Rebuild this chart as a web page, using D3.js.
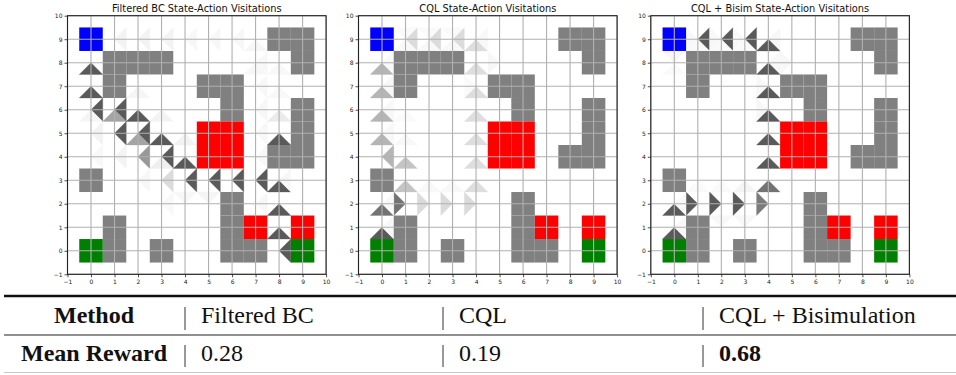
<!DOCTYPE html>
<html>
<head>
<meta charset="utf-8">
<script src="https://cdn.jsdelivr.net/npm/d3@7"></script>
<style>
  html, body { margin: 0; padding: 0; background: #fff; }
  svg { display: block; }
</style>
</head>
<body>
<div id="chart"></div>
<script>
// gridworld layout (cell centres)
const gridTicks = d3.range(-1, 11);
const startCells = [[0, 9]];
const wallCells = [
  [1, 8], [2, 8], [3, 8], [1, 7],
  [8, 9], [9, 9], [9, 8],
  [5, 7], [6, 7], [6, 6],
  [9, 6], [9, 5], [9, 4], [8, 4],
  [0, 3],
  [6, 2], [6, 1], [6, 0], [7, 0],
  [1, 1], [1, 0], [3, 0]
];
const lavaCells = [[5, 5], [6, 5], [5, 4], [6, 4], [7, 1], [9, 1]];
const goalCells = [[0, 0], [9, 0]];

const panelTitles = [
  'Filtered BC State-Action Visitations',
  'CQL State-Action Visitations',
  'CQL + Bisim State-Action Visitations'
];

// [x, y, action, visitation share]  (U/D/L/R)
const bcVisits = [
  [1, 9, 'R', 0.07], [2, 9, 'R', 0.07], [3, 9, 'R', 0.07], [4, 9, 'R', 0.05], [5, 9, 'R', 0.05], [6, 9, 'R', 0.05],
  [7, 9, 'D', 0.05], [7, 8, 'D', 0.05], [8, 8, 'D', 0.04], [7, 8, 'R', 0.04], [8, 7, 'D', 0.04],
  [7, 7, 'R', 0.04], [7, 6, 'R', 0.05], [8, 6, 'D', 0.12], [7, 5, 'R', 0.04], [7, 4, 'R', 0.04], [8, 5, 'D', 1],
  [0, 8, 'D', 1], [0, 7, 'D', 1], [0, 6, 'R', 1], [0, 6, 'D', 0.06], [0, 5, 'R', 0.08], [0, 4, 'R', 0.04],
  [1, 6, 'R', 1], [1, 6, 'D', 0.55], [2, 7, 'D', 0.06], [2, 6, 'D', 1], [3, 6, 'D', 0.07],
  [1, 5, 'R', 1], [2, 5, 'R', 1], [2, 5, 'D', 0.55], [3, 5, 'D', 1], [4, 5, 'D', 0.07],
  [1, 4, 'R', 0.07], [2, 4, 'R', 0.62], [3, 4, 'R', 1], [3, 4, 'D', 0.1], [4, 4, 'D', 1],
  [2, 3, 'R', 0.05], [3, 3, 'R', 0.22], [4, 3, 'R', 1], [5, 3, 'R', 1], [6, 3, 'R', 1], [7, 3, 'R', 1],
  [8, 3, 'D', 1], [8, 3, 'R', 0.05], [3, 2, 'R', 0.04], [4, 2, 'U', 0.05], [5, 2, 'U', 0.06], [7, 2, 'R', 0.05],
  [8, 2, 'D', 1], [8, 1, 'D', 1], [8, 0, 'R', 1]
];

const cqlVisits = [
  [1, 9, 'R', 0.22], [2, 9, 'R', 0.22], [3, 9, 'R', 0.22],
  [1, 9, 'D', 0.04], [2, 9, 'D', 0.04], [3, 9, 'D', 0.04],
  [1, 9, 'U', 0.03], [2, 9, 'U', 0.03], [3, 9, 'U', 0.03],
  [4, 9, 'D', 0.2], [4, 8, 'D', 0.2], [4, 7, 'D', 0.2], [4, 6, 'D', 0.2], [4, 5, 'D', 0.2], [4, 4, 'D', 0.2], [4, 3, 'D', 0.2],
  [5, 8, 'L', 0.05], [4, 9, 'R', 0.04], [4, 7, 'L', 0.03],
  [0, 8, 'D', 0.45], [0, 7, 'D', 0.45], [0, 6, 'D', 0.45], [0, 5, 'D', 0.45], [0, 4, 'R', 0.45],
  [0, 8, 'R', 0.04], [0, 7, 'R', 0.04], [0, 6, 'R', 0.04], [0, 5, 'R', 0.04], [1, 6, 'D', 0.03], [1, 5, 'D', 0.04],
  [1, 4, 'D', 0.36], [1, 3, 'D', 0.36], [2, 3, 'D', 0.04], [3, 3, 'D', 0.04],
  [1, 2, 'L', 0.85], [2, 2, 'L', 0.22], [3, 2, 'L', 0.22], [4, 2, 'L', 0.22],
  [0, 2, 'D', 0.85], [0, 1, 'D', 1], [0, 2, 'R', 0.04], [0, 1, 'R', 0.04]
];

const bisimVisits = [
  [1, 9, 'R', 1], [2, 9, 'R', 1], [3, 9, 'R', 1],
  [1, 9, 'L', 0.04], [2, 9, 'L', 0.04], [3, 9, 'L', 0.04], [1, 9, 'D', 0.03], [2, 9, 'D', 0.03], [3, 9, 'D', 0.03],
  [0, 8, 'U', 0.05], [0, 8, 'D', 0.03], [4, 9, 'R', 0.04], [5, 8, 'L', 0.05], [4, 8, 'R', 0.04], [4, 7, 'L', 0.04], [4, 6, 'L', 0.05],
  [4, 9, 'D', 1], [4, 8, 'D', 1], [4, 7, 'D', 1], [4, 6, 'D', 1], [4, 5, 'D', 1], [4, 4, 'D', 1], [4, 3, 'D', 0.85],
  [3, 3, 'D', 0.06], [2, 3, 'D', 0.03], [1, 3, 'D', 0.03], [2, 1, 'U', 0.04], [3, 1, 'U', 0.04],
  [4, 2, 'L', 0.8], [3, 2, 'L', 1], [2, 2, 'L', 1], [1, 2, 'L', 1],
  [0, 2, 'D', 1], [0, 1, 'D', 1], [0, 2, 'R', 0.04], [0, 1, 'R', 0.04]
];

const panelVisits = [bcVisits, cqlVisits, bisimVisits];

const methods = ['Filtered BC', 'CQL', 'CQL + Bisimulation'];
const meanRewards = ['0.28', '0.19', '0.68'];
const bestMethod = 'CQL + Bisimulation';

const width = 956;
const height = 375;
const panelLefts = [67.5, 358.5, 650.8];
const panelSize = 258.6;
const panelTop = 15.7;

const svg = d3.select('#chart').append('svg')
  .attr('width', width)
  .attr('height', height);

const shade = d3.scaleLinear().domain([0, 1]).range(['#ffffff', '#5a5a5a']);

// triangle corners for each action, relative to cell centre
const corners = {
  D: [[-0.5, -0.5], [0.5, -0.5], [0, 0]],
  U: [[-0.5, 0.5], [0.5, 0.5], [0, 0]],
  R: [[0.5, -0.5], [0.5, 0.5], [0, 0]],
  L: [[-0.5, -0.5], [-0.5, 0.5], [0, 0]]
};

panelTitles.forEach((title, i) => {
  const x = d3.scaleLinear().domain([-1, 10]).range([panelLefts[i], panelLefts[i] + panelSize]);
  const y = d3.scaleLinear().domain([-1, 10]).range([panelTop + panelSize, panelTop]);
  const g = svg.append('g');

  // visitation triangles
  g.selectAll('path.tri')
    .data(panelVisits[i])
    .enter()
    .append('path')
    .attr('class', 'tri')
    .attr('d', d => 'M' + corners[d[2]].map(c => `${x(d[0] + c[0])},${y(d[1] + c[1])}`).join('L') + 'Z')
    .attr('fill', d => shade(d[3]))
    .attr('stroke', d => shade(d[3]))
    .attr('stroke-width', 0.3);

  // coloured cells
  const cellSets = [
    [wallCells, '#808080'],
    [lavaCells, '#ff0000'],
    [goalCells, '#008000'],
    [startCells, '#0000ff']
  ];
  cellSets.forEach(([cells, color]) => {
    g.selectAll(null)
      .data(cells)
      .enter()
      .append('rect')
      .attr('x', d => x(d[0] - 0.5))
      .attr('y', d => y(d[1] + 0.5))
      .attr('width', d => x(d[0] + 0.5) - x(d[0] - 0.5))
      .attr('height', d => y(d[1] - 0.5) - y(d[1] + 0.5))
      .attr('fill', color);
  });

  // grid
  g.selectAll('line.gx')
    .data(gridTicks)
    .enter()
    .append('line')
    .attr('x1', d => x(d)).attr('x2', d => x(d))
    .attr('y1', y(-1)).attr('y2', y(10))
    .attr('stroke', '#b0b0b0')
    .attr('stroke-width', 1.1);
  g.selectAll('line.gy')
    .data(gridTicks)
    .enter()
    .append('line')
    .attr('y1', d => y(d)).attr('y2', d => y(d))
    .attr('x1', x(-1)).attr('x2', x(10))
    .attr('stroke', '#b0b0b0')
    .attr('stroke-width', 1.1);

  // axes
  const styleAxis = a => a
    .call(s => s.select('.domain').remove())
    .call(s => s.selectAll('.tick line').attr('stroke', '#222').attr('stroke-width', 0.8))
    .call(s => s.selectAll('.tick text').attr('fill', '#222').attr('font-size', '6px')
      .attr('font-family', 'DejaVu Sans'));

  g.append('g')
    .attr('transform', `translate(0,${y(-1)})`)
    .call(d3.axisBottom(x).tickValues(gridTicks).tickFormat(d3.format('d')).tickSize(3).tickPadding(2))
    .call(styleAxis);
  g.append('g')
    .attr('transform', `translate(${x(-1)},0)`)
    .call(d3.axisLeft(y).tickValues(gridTicks).tickFormat(d3.format('d')).tickSize(3).tickPadding(2))
    .call(styleAxis);

  // spines
  g.append('rect')
    .attr('x', x(-1)).attr('y', y(10))
    .attr('width', x(10) - x(-1)).attr('height', y(-1) - y(10))
    .attr('fill', 'none')
    .attr('stroke', '#222')
    .attr('stroke-width', 1.1);

  g.append('text')
    .attr('x', (x(-1) + x(10)) / 2)
    .attr('y', 11.5)
    .attr('text-anchor', 'middle')
    .attr('font-family', 'DejaVu Sans')
    .attr('font-size', '9.8px')
    .attr('fill', '#111')
    .text(title);
});

// results table
const table = svg.append('g')
  .attr('font-family', '"Liberation Serif", "Times New Roman", serif')
  .attr('font-size', '24px')
  .attr('fill', '#111');

const sepX = [185, 443, 703];
const rowBase = [323, 361];
const rowSep = [[307, 330], [345, 367]];

table.append('line').attr('x1', 4).attr('x2', width).attr('y1', 296).attr('y2', 296)
  .attr('stroke', '#111').attr('stroke-width', 2.5);
table.append('line').attr('x1', 4).attr('x2', width).attr('y1', 335).attr('y2', 335)
  .attr('stroke', '#222').attr('stroke-width', 1.2);
table.append('line').attr('x1', 4).attr('x2', width).attr('y1', 372.5).attr('y2', 372.5)
  .attr('stroke', '#c8c8c8').attr('stroke-width', 1);

rowSep.forEach(([a, b]) => {
  table.selectAll(null)
    .data(sepX)
    .enter()
    .append('line')
    .attr('x1', d => d).attr('x2', d => d)
    .attr('y1', a).attr('y2', b)
    .attr('stroke', '#333')
    .attr('stroke-width', 1);
});

table.append('text').attr('x', 94).attr('y', rowBase[0]).attr('text-anchor', 'middle')
  .attr('font-weight', 'bold').text('Method');
table.append('text').attr('x', 94).attr('y', rowBase[1]).attr('text-anchor', 'middle')
  .attr('font-weight', 'bold').text('Mean Reward');

table.selectAll('text.method')
  .data(methods)
  .enter()
  .append('text')
  .attr('class', 'method')
  .attr('x', (d, i) => sepX[i] + 16)
  .attr('y', rowBase[0])
  .text(d => d);

table.selectAll('text.reward')
  .data(meanRewards)
  .enter()
  .append('text')
  .attr('class', 'reward')
  .attr('x', (d, i) => sepX[i] + 16)
  .attr('y', rowBase[1])
  .attr('font-weight', (d, i) => methods[i] === bestMethod ? 'bold' : 'normal')
  .text(d => d);
</script>
</body>
</html>
